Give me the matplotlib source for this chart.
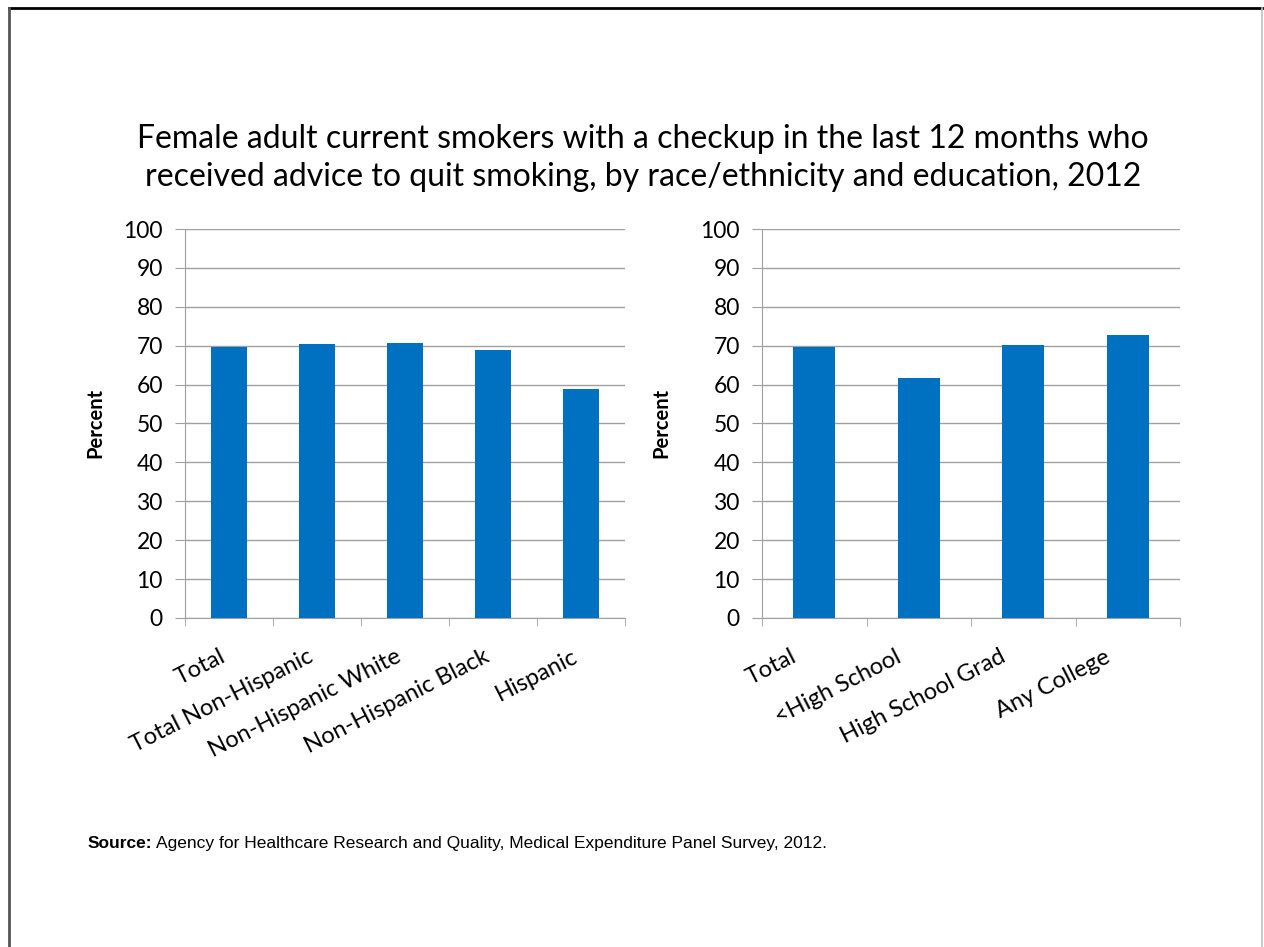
import matplotlib.pyplot as plt
import numpy as np
from matplotlib.lines import Line2D
from matplotlib.transforms import ScaledTranslation

race_labels = ["Total", "Total Non-Hispanic", "Non-Hispanic White", "Non-Hispanic Black", "Hispanic"]
race_values = [69.7, 70.4, 70.8, 68.9, 58.9]

edu_labels = ["Total", "<High School", "High School Grad", "Any College"]
edu_values = [69.7, 61.7, 70.1, 72.8]

BAR_COLOR = "#0070c0"
GRID_COLOR = "#a0a0a0"

plt.rcParams["font.family"] = ["Lato", "DejaVu Sans"]

W, H = 1264, 947
fig = plt.figure(figsize=(W / 100, H / 100), dpi=100)
fig.patch.set_facecolor("white")

# slide border: dark top and left, light right, none at the bottom
fig.add_artist(Line2D([9 / W, 1262 / W], [1 - 8 / H, 1 - 8 / H], color="black", linewidth=2))
fig.add_artist(Line2D([9 / W, 9 / W], [0, 1 - 8 / H], color="#555555", linewidth=2))
fig.add_artist(Line2D([1262 / W, 1262 / W], [0, 1 - 8 / H], color="#c0c0c0", linewidth=1.2))

fig.text(643 / W, 1 - 158 / H, "Female adult current smokers with a checkup in the last 12 months who\n"
         "received advice to quit smoking, by race/ethnicity and education, 2012",
         ha="center", va="center", fontsize=23, linespacing=1.32, color="black")


def draw_panel(x0, x1, labels, values, label_x, shift):
    ax = fig.add_axes([x0 / W, 1 - 618 / H, (x1 - x0) / W, (618 - 229) / H])
    pos = np.arange(len(labels))
    ax.bar(pos, values, width=0.4, color=BAR_COLOR, zorder=3)
    ax.set_xlim(-0.5, len(labels) - 0.5)
    ax.set_ylim(0, 100)
    ax.set_yticks(np.arange(0, 101, 10))
    ax.yaxis.grid(True, color=GRID_COLOR, linewidth=1.0, zorder=0)
    ax.set_axisbelow(True)
    for s in ["top", "right"]:
        ax.spines[s].set_visible(False)
    ax.spines["left"].set_color(GRID_COLOR)
    ax.spines["bottom"].set_color(GRID_COLOR)
    ax.tick_params(axis="y", length=7, color=GRID_COLOR, labelsize=16.5, pad=9)
    ax.set_xticks(pos)
    ax.set_xticks(np.arange(-0.5, len(labels), 1.0), minor=True)
    ax.tick_params(axis="x", which="major", length=0, pad=27)
    ax.tick_params(axis="x", which="minor", length=6, color=GRID_COLOR)
    ax.set_xticklabels(labels, rotation=27, ha="right", va="center",
                       rotation_mode="anchor", fontsize=17)
    for t in ax.get_xticklabels():
        t.set_transform(t.get_transform() + ScaledTranslation(shift / 100, 0, fig.dpi_scale_trans))
    fig.text(label_x / W, 1 - 423 / H, "Percent", rotation=90, ha="center", va="center",
             fontsize=14.5, fontweight="bold")
    return ax


draw_panel(185, 625, race_labels, race_values, 95, -5)
draw_panel(762, 1180, edu_labels, edu_values, 661, -19)

sy = 1 - 843 / H
src = fig.text(88 / W, sy, "Source:", fontsize=12.5, family="Liberation Sans", fontweight="bold", va="center")
bb = src.get_window_extent(renderer=fig.canvas.get_renderer())
fig.text((bb.x1 + 4) / W, sy, "Agency for Healthcare Research and Quality, Medical Expenditure Panel Survey, 2012.",
         fontsize=12.5, family="Liberation Sans", va="center")

fig.savefig("out.png", dpi=100)
